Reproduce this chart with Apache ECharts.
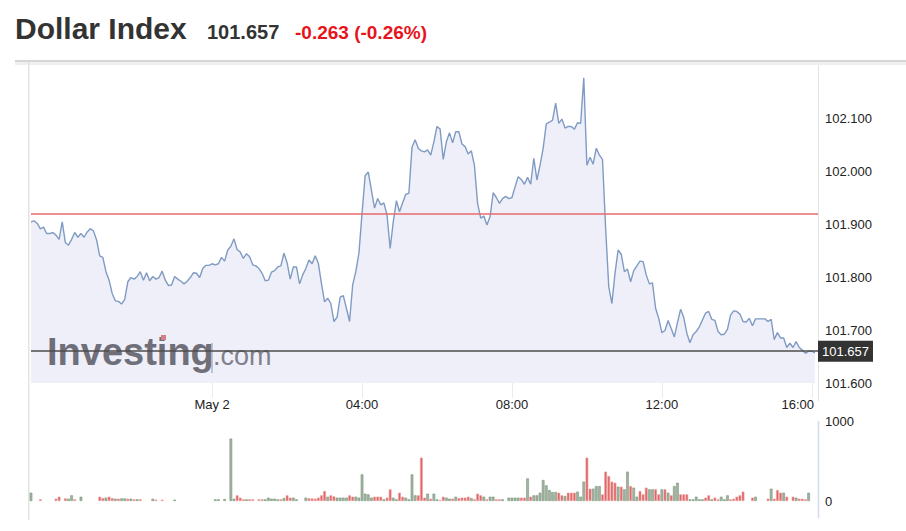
<!DOCTYPE html>
<html><head><meta charset="utf-8">
<script src="https://cdn.jsdelivr.net/npm/echarts@6/dist/echarts.min.js"></script>
<style>html,body{margin:0;padding:0;background:#fff}#c{width:906px;height:531px}</style>
</head><body><div id="c"></div>
<script>
const titleText = 'Dollar Index';
const lastPriceText = '101.657';
const changeText = '-0.263 (-0.26%)';
const lastPrice = 101.657;
const prevClose = 101.920;
const startMinutes = 19 * 60 + 10;   // May 1, 19:10
const stepMinutes = 5;
const categoryCount = 253;
const dayLabel = 'May 2';
const xTickLabels = ['00:00', '04:00', '08:00', '12:00', '16:00'];
const priceAxis = { min: 101.6, max: 102.2, interval: 0.1 };
const volumeAxis = { min: 0, max: 1000, interval: 1000 };

const prices = [
101.904,101.906,101.901,101.891,101.894,101.882,101.882,101.884,101.879,101.871,
101.904,101.865,101.860,101.871,101.884,101.875,101.882,101.875,101.885,101.891,
101.887,101.870,101.840,101.837,101.810,101.794,101.769,101.755,101.754,101.749,
101.758,101.791,101.799,101.796,101.801,101.810,101.794,101.808,101.793,101.801,
101.796,101.799,101.811,101.794,101.784,101.785,101.801,101.796,101.792,101.787,
101.792,101.799,101.808,101.807,101.799,101.816,101.822,101.822,101.825,101.823,
101.825,101.837,101.830,101.851,101.858,
101.872,101.852,101.847,101.835,101.844,101.838,101.823,101.821,101.816,101.807,
101.793,101.794,101.809,101.812,101.819,101.821,101.845,101.827,101.796,101.819,
101.819,101.787,101.804,101.816,101.832,101.825,101.840,101.826,101.788,101.753,
101.760,101.750,101.716,101.724,101.762,101.765,101.741,101.716,101.785,101.810,
101.845,101.920,101.991,101.998,101.964,101.930,101.948,101.936,101.940,101.917,
101.854,101.904,101.944,101.923,101.940,101.956,101.958,
102.045,102.059,102.043,102.038,102.036,102.040,102.030,102.055,102.084,102.079,
102.022,102.055,102.072,102.053,102.074,102.074,102.051,102.046,102.032,102.038,
102.010,101.939,101.911,101.915,101.898,101.914,101.959,101.950,101.939,101.948,
101.952,101.948,101.950,101.970,101.989,101.984,101.975,101.988,101.975,102.024,
101.983,102.011,102.043,102.089,102.092,102.096,102.128,102.090,102.098,102.081,
102.084,102.084,102.079,102.091,102.090,102.176,102.011,102.026,102.013,102.043,
102.030,102.022,
101.892,101.782,101.750,101.807,101.851,101.843,101.810,101.815,101.791,101.812,
101.821,101.830,101.829,101.804,101.787,101.789,101.741,101.722,101.695,101.699,
101.718,101.703,101.687,101.714,101.739,101.724,101.694,101.676,101.691,101.697,
101.706,101.719,101.732,101.735,101.720,101.718,101.697,101.691,101.692,101.701,
101.728,101.736,101.735,101.730,101.716,101.715,101.722,101.708,101.721,101.721,
101.721,101.721,101.716,101.720,101.682,101.695,101.685,101.685,101.667,101.675,
101.667,101.678,101.667,101.662,101.656,101.660,101.660,101.657
];

const volumes = [
104,0,0,21,0,0,0,0,29,54,
0,33,29,71,21,0,54,0,0,0,
0,0,54,37,42,54,37,29,29,33,
33,29,29,21,21,21,0,0,0,29,
17,0,17,0,0,0,17,0,0,0,
0,0,0,0,0,0,0,0,0,21,
21,0,25,0,780,29,71,42,21,21,
21,21,0,21,21,21,42,29,29,21,
21,37,71,42,42,21,0,0,42,33,
33,29,42,71,125,54,71,58,42,42,
42,42,71,54,54,42,333,92,83,42,
54,54,54,21,42,146,42,21,104,54,
42,21,333,71,71,542,42,92,29,92,
21,12,54,42,29,29,54,37,42,42,
54,37,21,92,71,54,21,54,54,21,
21,21,0,42,42,42,42,42,42,283,
54,71,71,104,262,196,137,112,112,104,
71,62,104,104,104,117,54,242,542,154,
154,187,187,83,367,312,242,229,179,179,
146,367,187,167,54,125,83,167,146,146,
146,83,146,146,104,71,187,229,83,83,
83,21,21,54,21,21,42,71,21,42,
21,54,21,71,21,29,54,71,117,0,
0,42,54,0,0,0,29,154,29,137,
104,104,54,0,54,42,29,29,21,104,
0,0
];

const volumeUp = [
1,0,0,0,0,0,0,0,0,0,
0,0,1,1,0,0,1,0,0,0,
0,0,0,0,1,0,0,1,0,1,
1,0,1,0,1,0,0,0,0,1,
0,0,0,0,0,0,1,0,0,0,
0,0,0,0,0,0,0,0,0,1,
1,0,1,0,1,1,0,0,0,1,
0,0,0,0,0,1,1,1,1,1,
0,1,0,0,1,1,0,0,1,0,
0,0,0,0,0,1,0,0,1,1,
1,1,0,0,1,1,1,1,1,1,
0,0,0,1,0,0,1,1,0,0,
1,1,1,1,0,0,0,1,0,1,
1,0,0,1,1,0,1,0,0,0,
0,1,0,0,0,1,0,1,1,0,
0,1,0,1,1,1,1,0,0,1,
0,1,1,1,1,1,1,1,1,0,
0,1,0,0,0,1,1,1,0,0,
1,1,1,0,0,0,0,0,1,0,
1,1,0,1,1,0,0,0,1,1,
0,0,1,0,1,0,1,1,0,0,
0,1,1,1,1,1,0,0,1,0,
0,1,1,1,0,0,0,0,0,0,
0,0,1,0,0,0,0,1,0,0,
0,1,0,0,0,1,0,0,0,1,
0,0
];

const categories = [];
for (let k = 0; k < categoryCount; k++) {
  const t = (startMinutes + k * stepMinutes) % 1440;
  const h = Math.floor(t / 60), m = t % 60;
  categories.push(String(h).padStart(2, '0') + ':' + String(m).padStart(2, '0'));
}

const font = 'Arial, "Liberation Sans", sans-serif';
const isMajor = (idx, val) => xTickLabels.indexOf(String(val)) >= 0;

const volData = volumes.map((v, i) => v > 0 ? {
  value: v,
  itemStyle: volumeUp[i]
    ? { color: '#a9aca9', borderColor: '#77a077', borderWidth: 0.6 }
    : { color: '#e06464', borderColor: '#eca0a0', borderWidth: 0.6 }
} : '-');

const chart = echarts.init(document.getElementById('c'), null, { renderer: 'svg', width: 906, height: 531 });

chart.setOption({
  animation: false,
  backgroundColor: '#ffffff',
  textStyle: { fontFamily: font },
  grid: [
    { left: 31, right: 88, top: 65, height: 318 },
    { left: 31, right: 88, top: 421, height: 80 }
  ],
  xAxis: [
    {
      type: 'category', gridIndex: 0, data: categories, boundaryGap: false,
      axisLine: { show: false },
      axisTick: { show: true, interval: isMajor, length: 15, lineStyle: { color: '#ebebeb' } },
      splitLine: { show: false },
      axisLabel: {
        interval: isMajor, margin: 15, color: '#222', fontSize: 13, fontFamily: font,
        formatter: (val) => val === '00:00' ? dayLabel : (val === '16:00' ? '{r|16:00}' : val),
        rich: { r: { fontSize: 13, color: '#222', fontFamily: font, padding: [0, 28, 0, 0] } }
      }
    },
    {
      type: 'category', gridIndex: 1, data: categories, boundaryGap: false,
      axisLine: { show: false }, axisTick: { show: false }, axisLabel: { show: false }, splitLine: { show: false }
    }
  ],
  yAxis: [
    {
      type: 'value', gridIndex: 0, position: 'right',
      min: priceAxis.min, max: priceAxis.max, interval: priceAxis.interval,
      axisLine: { show: false }, axisTick: { show: false }, splitLine: { show: false },
      axisLabel: { margin: 7, color: '#222', fontSize: 13, fontFamily: font, showMaxLabel: false,
        formatter: v => v.toFixed(3) }
    },
    {
      type: 'value', gridIndex: 1, position: 'right',
      min: volumeAxis.min, max: volumeAxis.max, interval: volumeAxis.interval,
      axisLine: { show: false }, axisTick: { show: false }, splitLine: { show: false },
      axisLabel: { margin: 7, color: '#222', fontSize: 13, fontFamily: font, formatter: v => String(v) }
    }
  ],
  series: [
    {
      type: 'line', xAxisIndex: 0, yAxisIndex: 0, data: prices,
      showSymbol: false, silent: true, z: 3,
      lineStyle: { color: '#7f9bc2', width: 1.4 },
      areaStyle: { color: 'rgba(115,115,210,0.17)', origin: 'start' },
      markLine: {
        silent: true, symbol: ['none', 'none'], animation: false,
        data: [
          { yAxis: prevClose, lineStyle: { color: '#e96a6c', width: 1.6, type: 'solid' }, label: { show: false } },
          { yAxis: lastPrice, lineStyle: { color: '#4d4d4d', width: 1.6, type: 'solid' },
            label: { show: true, position: 'end', distance: 0, formatter: lastPriceText,
              backgroundColor: '#333333', color: '#ffffff', padding: [4, 4, 4, 4],
              fontSize: 13, fontFamily: font } }
        ]
      }
    },
    {
      type: 'bar', xAxisIndex: 1, yAxisIndex: 1, data: volData,
      barWidth: 2.7, silent: true
    }
  ],
  graphic: [
    { type: 'rect', silent: true, shape: { x: 15, y: 60, width: 891, height: 2 }, style: { fill: '#d6d6d6' } },
    { type: 'rect', silent: true, shape: { x: 15, y: 62, width: 891, height: 3 }, style: { fill: '#efefef' } },
    { type: 'rect', silent: true, shape: { x: 28, y: 62, width: 1.5, height: 458 }, style: { fill: '#e3e3e3' } },
    { type: 'line', silent: true, shape: { x1: 818.5, y1: 65, x2: 818.5, y2: 401 }, style: { stroke: '#e2e2e2', lineWidth: 1 } },
    { type: 'line', silent: true, shape: { x1: 818.5, y1: 421, x2: 818.5, y2: 518 }, style: { stroke: '#d3dbe6', lineWidth: 1.5 } },
    { type: 'text', silent: true, x: 47, y: 351.8, style: { text: 'Investing', font: 'bold 38px ' + font, fill: '#6e6e6e', verticalAlign: 'middle' } },
    { type: 'line', silent: true, shape: { x1: 212, y1: 343, x2: 212, y2: 373 }, style: { stroke: '#9a9a9a', lineWidth: 1 } },
    { type: 'text', silent: true, x: 213, y: 355.6, style: { text: '.com', font: '27px ' + font, fill: '#828282', verticalAlign: 'middle' } },
    { type: 'rect', silent: true, shape: { x: 161, y: 335, width: 5, height: 5 }, style: { fill: '#e07f7f' } },
    { type: 'text', silent: true, x: 15, y: 28, style: { text: titleText, font: 'bold 30px ' + font, fill: '#333333', verticalAlign: 'middle' } },
    { type: 'text', silent: true, x: 207, y: 32.2, style: { text: lastPriceText, font: 'bold 20px ' + font, fill: '#333333', verticalAlign: 'middle' } },
    { type: 'text', silent: true, x: 295, y: 32.4, style: { text: changeText, font: 'bold 19px ' + font, fill: '#e8141b', verticalAlign: 'middle' } }
  ]
});
</script>
</body></html>
